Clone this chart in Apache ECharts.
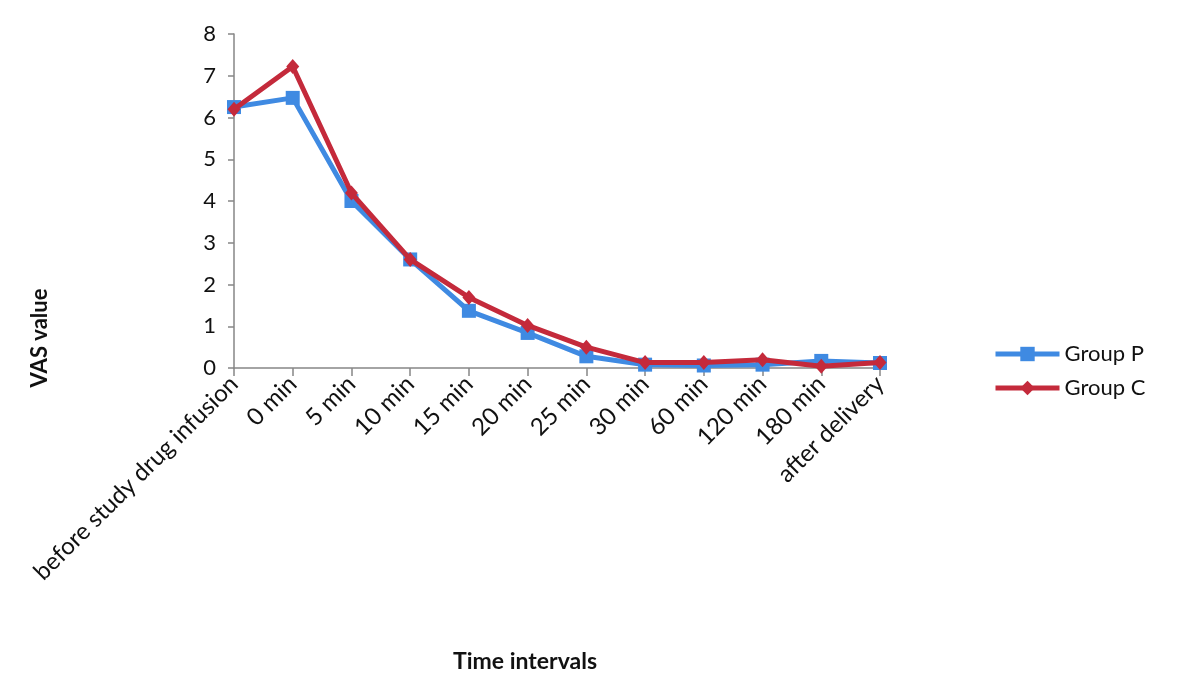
<!DOCTYPE html>
<html><head><meta charset="utf-8">
<script src="https://cdn.jsdelivr.net/npm/echarts@6/dist/echarts.min.js"></script>
<style>html,body{margin:0;padding:0;background:#fff}#c{width:1182px;height:695px}</style>
</head><body><div id="c"></div>
<script>
const categories = ['before study drug infusion','0 min','5 min','10 min','15 min','20 min','25 min','30 min','60 min','120 min','180 min','after delivery'];
const groupP = [6.25, 6.47, 4.0, 2.6, 1.37, 0.84, 0.28, 0.08, 0.06, 0.08, 0.17, 0.12];
const groupC = [6.2, 7.22, 4.19, 2.6, 1.69, 1.02, 0.5, 0.13, 0.13, 0.2, 0.04, 0.13];
const yTicks = [0, 8, 1];
const F = 'Lato, "Open Sans", sans-serif';
const chart = echarts.init(document.getElementById('c'));
chart.setOption({
  backgroundColor: '#fff',
  animation: false,
  grid: {left: 234, right: 302, top: 34, bottom: 327, containLabel: false},
  xAxis: {
    type: 'category', data: categories, boundaryGap: false,
    axisLine: {lineStyle: {color: '#868686', width: 1.5}},
    axisTick: {show: true, length: 8, alignWithLabel: true, lineStyle: {color: '#868686', width: 1.5}},
    axisLabel: {rotate: 45, interval: 0, color: '#111', fontSize: 24, fontFamily: F, margin: 12}
  },
  yAxis: {
    type: 'value', min: yTicks[0], max: yTicks[1], interval: yTicks[2],
    splitLine: {show: false},
    axisLine: {show: true, lineStyle: {color: '#868686', width: 1.5}},
    axisTick: {show: true, length: 6, lineStyle: {color: '#868686', width: 1.5}},
    axisLabel: {color: '#111', fontSize: 22, fontFamily: F, margin: 18}
  },
  legend: {
    orient: 'vertical', left: 988, top: 338, itemGap: 12,
    itemWidth: 64, itemHeight: 18,
    lineStyle: {width: 5},
    textStyle: {fontSize: 22, fontFamily: F, color: '#111', padding: [0,0,0,0]},
    data: ['Group P', 'Group C']
  },
  graphic: [
    {type: 'text', x: 40, y: 338, rotation: Math.PI/2,
     style: {text: 'VAS value', font: 'bold 22px ' + F, fill: '#111', align: 'center', verticalAlign: 'middle'}},
    {type: 'text', x: 525, y: 662,
     style: {text: 'Time intervals', font: 'bold 23px ' + F, fill: '#111', align: 'center', verticalAlign: 'middle'}}
  ],
  series: [
    {name: 'Group P', type: 'line', data: groupP, symbol: 'rect', symbolSize: 14,
     lineStyle: {color: '#3f8ae2', width: 5}, itemStyle: {color: '#3f8ae2'}, z: 2},
    {name: 'Group C', type: 'line', data: groupC, symbol: 'diamond', symbolSize: [13, 15],
     lineStyle: {color: '#c42a3b', width: 5}, itemStyle: {color: '#c42a3b'}, z: 3}
  ]
});
</script></body></html>
